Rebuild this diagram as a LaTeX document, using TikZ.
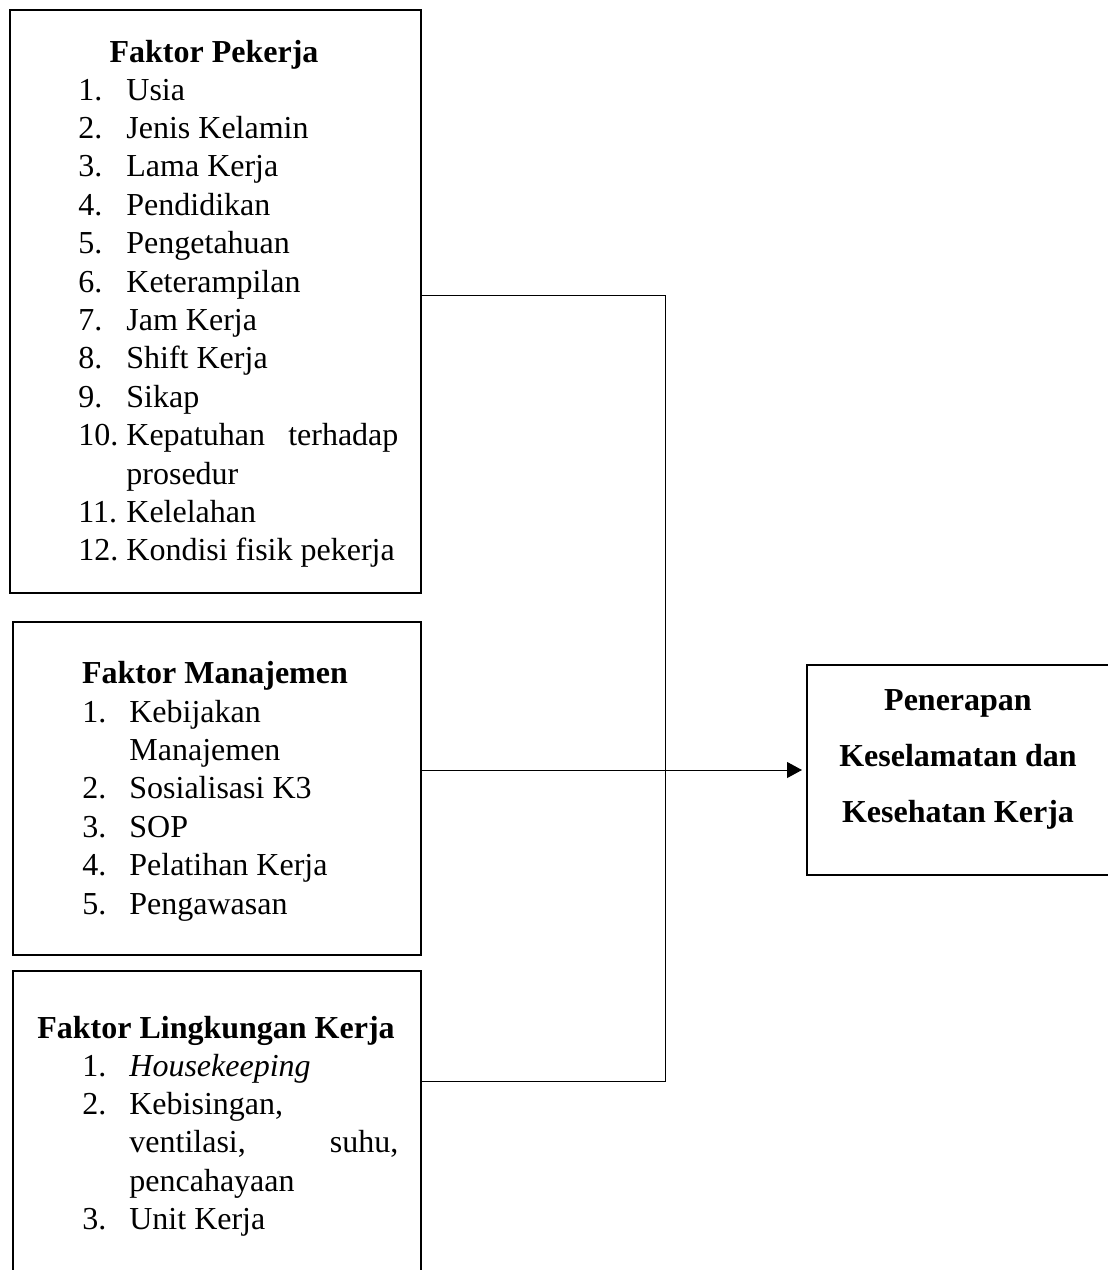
\documentclass[tikz,border=0pt]{standalone}
\usepackage{fontspec}
\setmainfont{Liberation Serif}
\usetikzlibrary{arrows.meta}

% list of numbered items, first row on the node's baseline
\newcommand{\itemlist}[3]{\begin{tabular}[t]{@{}p{#1}@{}p{#2}@{}}#3\end{tabular}}
\newcommand{\fullline}[2]{\makebox[#1][s]{#2}}

\begin{document}
\begin{tikzpicture}[x=0.5pt, y=-0.5pt,
 box/.style={draw, line width=1.1pt, anchor=north west, inner sep=0pt},
 head/.style={font=\fontsize{16}{19.2}\selectfont\bfseries, anchor=base, inner sep=0pt},
 items/.style={font=\fontsize{16}{19.2}\selectfont, anchor=base west, inner sep=0pt},
 result/.style={font=\fontsize{16}{28}\selectfont\bfseries, anchor=base, inner sep=0pt},
 link/.style={line width=0.5pt},
]
\clip (0,0) rectangle (1108,1270);

%boxes
\node[box, minimum width=205.5pt, minimum height=291.5pt] (pekerja) at (9,9) {};
\node[box, minimum width=204pt, minimum height=166.5pt] (manajemen) at (12,621) {};
\node[box, minimum width=204pt, minimum height=166pt] (lingkungan) at (12,970) {};
\node[box, minimum width=154.5pt, minimum height=105pt] (penerapan) at (806,664) {};

%faktor pekerja
\node[head] (pekerja head) at (214,62) {Faktor Pekerja};
\node[items] (pekerja list) at (78,100) {\itemlist{24pt}{145pt}{%
1. & Usia\\
2. & Jenis Kelamin\\
3. & Lama Kerja\\
4. & Pendidikan\\
5. & Pengetahuan\\
6. & Keterampilan\\
7. & Jam Kerja\\
8. & Shift Kerja\\
9. & Sikap\\
10. & \fullline{136pt}{Kepatuhan terhadap}\\
 & prosedur\\
11. & Kelelahan\\
12. & Kondisi fisik pekerja}};

%faktor manajemen
\node[head] (manajemen head) at (215,683) {Faktor Manajemen};
\node[items] (manajemen list) at (82,722) {\itemlist{23.5pt}{145pt}{%
1. & Kebijakan\\
 & Manajemen\\
2. & Sosialisasi K3\\
3. & SOP\\
4. & Pelatihan Kerja\\
5. & Pengawasan}};

%faktor lingkungan kerja
\node[head] (lingkungan head) at (216,1038) {Faktor Lingkungan Kerja};
\node[items] (lingkungan list) at (82,1076) {\itemlist{23.5pt}{145pt}{%
1. & \textit{Housekeeping}\\
2. & Kebisingan,\\
 & \fullline{134.5pt}{ventilasi, suhu,}\\
 & pencahayaan\\
3. & Unit Kerja}};

%penerapan
\node[result] (penerapan text) at (958,710) {\begin{tabular}[t]{@{}c@{}}Penerapan\\ Keselamatan dan\\ Kesehatan Kerja\end{tabular}};

%connectors
\coordinate (bus top) at (665,295);
\coordinate (bus mid) at (665,770);
\coordinate (bus bot) at (665,1081);
\draw[link] (pekerja.east |- bus top) -- (bus top) -- (bus bot) -- (lingkungan.east |- bus bot);
\draw[link] (manajemen.east |- bus mid) -- (bus mid);
\draw[link, -{Triangle[length=7.5pt, width=8pt]}, shorten >=2pt] (bus mid) -- (penerapan.west |- bus mid);

\end{tikzpicture}
\end{document}
